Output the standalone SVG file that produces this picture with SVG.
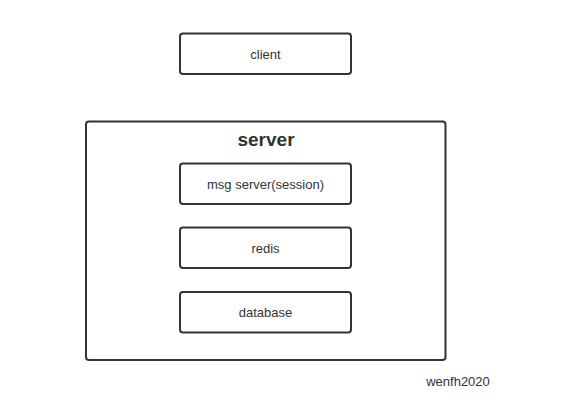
<svg xmlns="http://www.w3.org/2000/svg" width="585" height="419" viewBox="0 0 585 419">
<style>
.box{fill:#fff;stroke:#333;stroke-width:2}
.lbl{font-family:"Liberation Sans",Arial,sans-serif;font-size:13px;fill:#333;text-anchor:middle}
.title{font-family:"Liberation Sans",Arial,sans-serif;font-size:19px;font-weight:bold;fill:#333;text-anchor:middle}
</style>
<rect width="585" height="419" fill="#fff"/>
<g id="server">
<rect class="box" x="86" y="121.5" width="359.5" height="238.5" rx="3"/>
<text class="title" x="266" y="146">server</text>
</g>
<g id="client">
<rect class="box" x="180" y="33.5" width="171" height="40.5" rx="3"/>
<text class="lbl" x="265.5" y="59">client</text>
</g>
<g id="msg-server">
<rect class="box" x="180" y="163.5" width="171" height="40.5" rx="3"/>
<text class="lbl" x="265.5" y="189">msg server(session)</text>
</g>
<g id="redis">
<rect class="box" x="180" y="227.5" width="171" height="40.5" rx="3"/>
<text class="lbl" x="265.5" y="253">redis</text>
</g>
<g id="database">
<rect class="box" x="180" y="292" width="171" height="40.5" rx="3"/>
<text class="lbl" x="265.5" y="317">database</text>
</g>
<g id="connectors"></g>
<text class="lbl" x="458" y="386">wenfh2020</text>
</svg>
